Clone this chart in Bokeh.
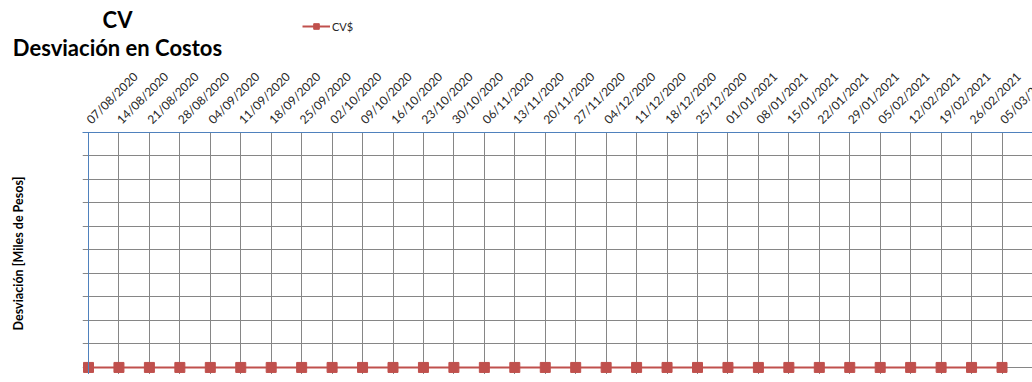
import math
from bokeh.plotting import figure
from bokeh.models import Range1d, FixedTicker, Legend, LegendItem, Label, Span, ColumnDataSource
from bokeh.embed import file_html
from bokeh.resources import INLINE

title_line1 = "CV"
title_line2 = "Desviación en Costos"
series_name = "CV$"
y_label = "Desviación [Miles de Pesos]"

dates = ["07/08/2020", "14/08/2020", "21/08/2020", "28/08/2020", "04/09/2020",
         "11/09/2020", "18/09/2020", "25/09/2020", "02/10/2020", "09/10/2020",
         "16/10/2020", "23/10/2020", "30/10/2020", "06/11/2020", "13/11/2020",
         "20/11/2020", "27/11/2020", "04/12/2020", "11/12/2020", "18/12/2020",
         "25/12/2020", "01/01/2021", "08/01/2021", "15/01/2021", "22/01/2021",
         "29/01/2021", "05/02/2021", "12/02/2021", "19/02/2021", "26/02/2021",
         "05/03/2021"]
cv_values = [0, 0, 0, 0, 0, 0, 0, 0, 0, 0,
             0, 0, 0, 0, 0, 0, 0, 0, 0, 0,
             0, 0, 0, 0, 0, 0, 0, 0, 0, 0,
             0]
y_ticks = [0, 1, 2, 3, 4, 5, 6, 7, 8, 9, 10]

x_idx = list(range(len(dates)))
source = ColumnDataSource(data=dict(x=x_idx, cv=cv_values))

RED = "#C0504D"
BLUE = "#4F81BD"
GRID = "#868686"
FONT = "Lato"

W = 1070          # canvas a bit wider than the window: the last label runs off the edge
LEFT = 82
PX_PER_CAT = 30.45

# ---------- header (titles + legend) ----------
TOP_H = 60
Y0 = 1000
top = figure(width=W, height=TOP_H, x_range=Range1d(0, W),
             y_range=Range1d(Y0, Y0 + TOP_H),
             output_backend="svg", toolbar_location=None,
             min_border_left=0, min_border_right=0,
             min_border_top=0, min_border_bottom=0)
top.axis.visible = False
top.grid.visible = False
top.outline_line_color = None
top.title.text = ""

top.add_layout(Label(x=117, y=Y0 + TOP_H - 19, text=title_line1,
                     text_align="center", text_baseline="middle", text_font=FONT,
                     text_font_size="22px", text_font_style="bold", text_color="#000000"))
top.add_layout(Label(x=117, y=Y0 + TOP_H - 47, text=title_line2,
                     text_align="center", text_baseline="middle", text_font=FONT,
                     text_font_size="22px", text_font_style="bold", text_color="#000000"))

leg_line = top.line("x", "cv", source=source, line_color=RED, line_width=2)
leg_mark = top.scatter("x", "cv", source=source, marker="square", size=8,
                       fill_color=RED, line_color=RED)
legend = Legend(items=[LegendItem(label=series_name, renderers=[leg_line, leg_mark])],
                location=(302, TOP_H - 33), orientation="horizontal",
                label_text_font=FONT, label_text_font_size="11px",
                label_text_color="#262626",
                glyph_width=28, glyph_height=14, label_height=14,
                padding=0, margin=0, spacing=0, background_fill_alpha=0,
                border_line_color=None, label_standoff=2)
top.add_layout(legend, "center")

# ---------- main chart ----------
x_start = -(88 - LEFT) / PX_PER_CAT
x_end = x_start + (W - LEFT) / PX_PER_CAT
p = figure(width=W, height=314, x_range=Range1d(x_start, x_end), y_range=Range1d(-0.3, 10),
           x_axis_location="above", output_backend="svg", toolbar_location=None,
           min_border_left=LEFT, min_border_right=0, min_border_bottom=0, min_border_top=72)
p.outline_line_color = None
p.title.text = ""

p.xaxis.ticker = FixedTicker(ticks=x_idx)
p.xaxis.major_label_overrides = {i: d for i, d in enumerate(dates)}
p.xaxis.major_label_orientation = math.pi / 4
p.xaxis.major_label_text_font = FONT
p.xaxis.major_label_text_font_size = "12px"
p.xaxis.major_label_text_color = "#262626"
p.xaxis.axis_line_color = BLUE
p.xaxis.major_tick_line_color = None
p.xaxis.minor_tick_line_color = None

p.yaxis.ticker = FixedTicker(ticks=[])
p.yaxis.axis_line_color = None
p.yaxis.major_tick_line_color = None
p.yaxis.minor_tick_line_color = None
p.yaxis.axis_label = y_label
p.yaxis.axis_label_text_font = FONT
p.yaxis.axis_label_text_font_size = "12.5px"
p.yaxis.axis_label_text_font_style = "bold"
p.yaxis.axis_label_text_color = "#000000"
p.yaxis.axis_label_standoff = 57

p.xgrid.ticker = FixedTicker(ticks=x_idx + [len(dates)])
p.ygrid.ticker = FixedTicker(ticks=y_ticks)
p.xgrid.grid_line_color = GRID
p.ygrid.grid_line_color = GRID

p.add_layout(Span(location=0, dimension="height", line_color=BLUE, line_width=1))

p.line("x", "cv", source=source, line_color=RED, line_width=2)
p.scatter("x", "cv", source=source, marker="square", size=10, fill_color=RED, line_color=RED)

open("out.html", "w").write(file_html([top, p], INLINE))
